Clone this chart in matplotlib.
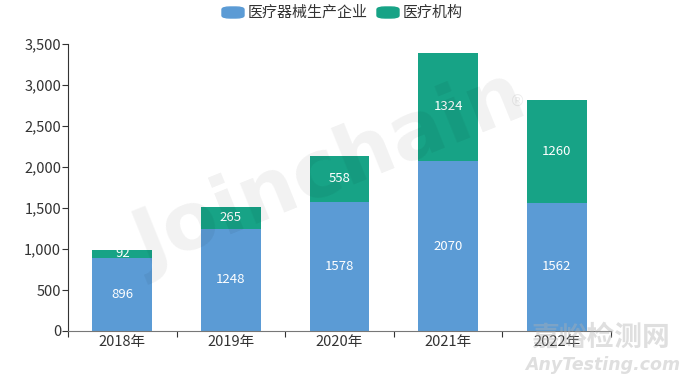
import matplotlib
matplotlib.use("Agg")
import matplotlib.pyplot as plt
from matplotlib.patches import FancyBboxPatch
from matplotlib.ticker import FuncFormatter, FixedLocator

plt.rcParams['font.family'] = ['Noto Sans CJK SC', 'DejaVu Sans']

years = ["2018年", "2019年", "2020年", "2021年", "2022年"]
manufacturers = [896, 1248, 1578, 2070, 1562]
institutions = [92, 265, 558, 1324, 1260]
series_names = ["医疗器械生产企业", "医疗机构"]
colors = ["#5b9bd5", "#17a386"]

fig = plt.figure(figsize=(6.8, 3.77), dpi=100)
ax = fig.add_axes([68/680, 46/377, (611-68)/680, (331-44)/377])

x = list(range(len(years)))
w = 0.55
ax.bar(x, manufacturers, width=w, color=colors[0], zorder=2)
ax.bar(x, institutions, width=w, bottom=manufacturers, color=colors[1], zorder=2)

for i in x:
    ax.text(i, manufacturers[i] / 2, str(manufacturers[i]), ha='center', va='center',
            color='white', fontsize=9.5, zorder=3)
    ax.text(i, manufacturers[i] + institutions[i] / 2, str(institutions[i]), ha='center',
            va='center', color='white', fontsize=9.5, zorder=3)

ax.set_xlim(-0.5, len(years) - 0.5)
ax.set_ylim(0, 3500)
ax.yaxis.set_major_locator(FixedLocator(range(0, 3501, 500)))
ax.yaxis.set_major_formatter(FuncFormatter(lambda v, p: f"{int(v):,}"))
ax.set_xticks([i - 0.5 for i in range(len(years) + 1)])
ax.set_xticklabels([])
ax.set_xticks(x, minor=True)
ax.set_xticklabels(years, minor=True)
ax.tick_params(axis='x', which='minor', length=0, labelsize=10.5, colors='#333333', pad=3)
ax.tick_params(axis='x', which='major', length=4, color='#333333')
ax.tick_params(axis='y', length=4, labelsize=10.5, colors='#333333', pad=1)
for s in ['top', 'right']:
    ax.spines[s].set_visible(False)
ax.spines['left'].set_color('#333333')
ax.spines['bottom'].set_color('#777777')

# watermark
fig.text(330/680, 1 - 172/377, "Joinchain", fontsize=58, fontweight='bold',
         color='black', alpha=0.055, rotation=22, ha='center', va='center', zorder=10,
         family='DejaVu Sans')
fig.text(517/680, 1 - 101/377, "®", fontsize=11, color='black', alpha=0.07,
         ha='center', va='center', family='DejaVu Sans')
fig.text(601/680, 1 - 338/377, "嘉峪检测网", fontsize=20, color='#b0b0b0', alpha=0.4,
         ha='center', va='center', fontweight='bold', zorder=10)
fig.text(603/680, 1 - 365/377, "AnyTesting.com", fontsize=12.5, color='#b0b0b0', alpha=0.4,
         ha='center', va='center', style='italic', fontweight='bold', family='DejaVu Sans',
         zorder=10)

# legend
lx = 222
for name, c in zip(series_names, colors):
    patch = FancyBboxPatch((lx/680, 1 - 18/377), 22/680, 11/377,
                           boxstyle="round,pad=0,rounding_size=0.012",
                           transform=fig.transFigure, color=c, mutation_aspect=377/680)
    fig.patches.append(patch)
    t = fig.text((lx + 26)/680, 1 - 12.5/377, name, fontsize=10.8, color='#333333',
                 ha='left', va='center')
    fig.canvas.draw()
    bb = t.get_window_extent()
    lx = bb.x1 + 9

fig.savefig("out.png", dpi=100)
